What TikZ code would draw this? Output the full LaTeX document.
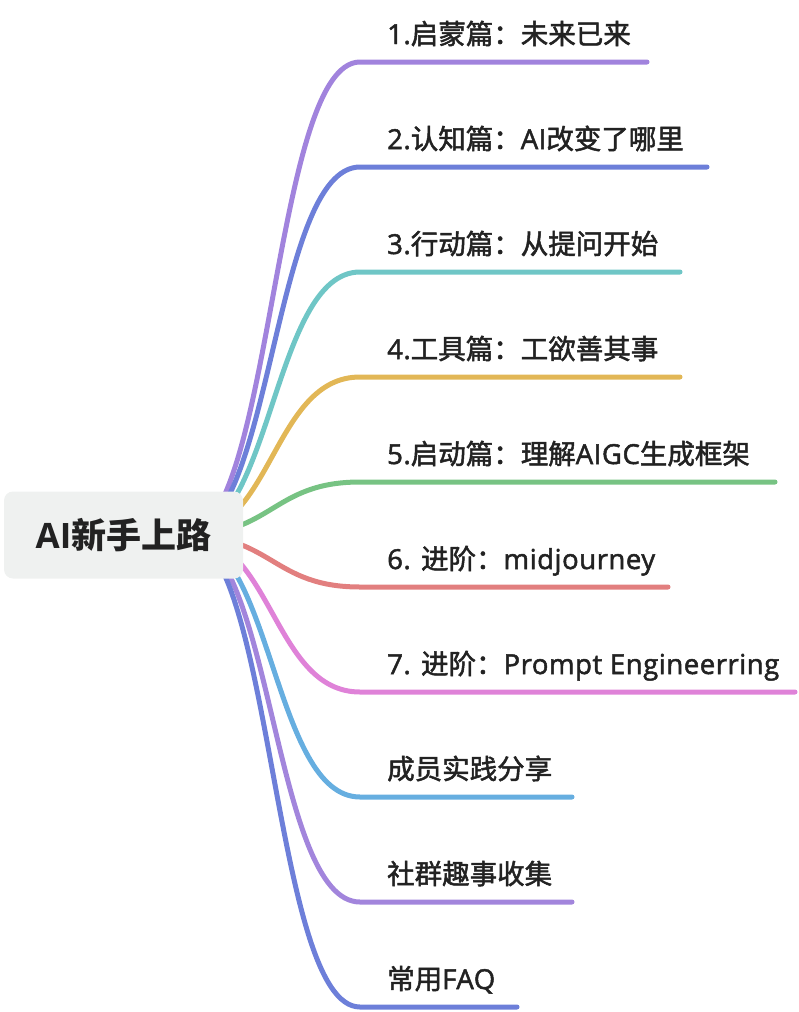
\documentclass[tikz,border=0pt]{standalone}
\usepackage{fontspec}
\setmainfont{Open Sans}
\newfontfamily\cjk{Noto Sans CJK SC}
\newfontfamily\cjkm{Noto Sans CJK SC}[FakeBold=1.8]
\newfontfamily\latm{Open Sans}[FakeBold=1.8,LetterSpace=2]
\definecolor{c1}{HTML}{A183DD}
\definecolor{c2}{HTML}{6D7FD9}
\definecolor{c3}{HTML}{6FC6C6}
\definecolor{c4}{HTML}{E2B756}
\definecolor{c5}{HTML}{77C383}
\definecolor{c6}{HTML}{E27F7F}
\definecolor{c7}{HTML}{DF82D8}
\definecolor{c8}{HTML}{66AEE0}
\definecolor{c9}{HTML}{A285DC}
\definecolor{c10}{HTML}{6D7FD9}
\definecolor{txt}{HTML}{222222}
\definecolor{rootbg}{HTML}{EFF1F0}
\begin{document}
\begin{tikzpicture}[x=1pt,y=-1pt,
  branch/.style={line width=5pt, line cap=round},
  lbl/.style={anchor=base west, inner sep=0pt, text=txt, font=\fontsize{27.5}{32}\selectfont\latm},
  rootbox/.style={fill=rootbg, rounded corners=9pt, minimum width=239pt, minimum height=87pt, inner sep=0pt, text=txt, font=\fontsize{35}{40}\selectfont\bfseries}]
\useasboundingbox (0,0) rectangle (798,1012);
\coordinate (hub) at (185,535);
% branch start / end coordinates
\coordinate (s1) at (360,62);   \coordinate (e1) at (647,62);
\coordinate (s2) at (360,167);  \coordinate (e2) at (707,167);
\coordinate (s3) at (360,272);  \coordinate (e3) at (680,272);
\coordinate (s4) at (360,377);  \coordinate (e4) at (680,377);
\coordinate (s5) at (360,482);  \coordinate (e5) at (775,482);
\coordinate (s6) at (360,587);  \coordinate (e6) at (668,587);
\coordinate (s7) at (360,692);  \coordinate (e7) at (795,692);
\coordinate (s8) at (360,797);  \coordinate (e8) at (572,797);
\coordinate (s9) at (360,902);  \coordinate (e9) at (572,902);
\coordinate (s10) at (360,1007); \coordinate (e10) at (517,1007);
% connectors
\foreach \i in {1,...,10}{
  \draw[branch, c\i] (hub) .. controls ([xshift=87.5pt]hub) and ([xshift=-87.5pt]s\i) .. (s\i) -- (e\i);
}
% root
\node[rootbox] (root) at (123.5,535) {AI{\cjk\bfseries 新手上路}};
% labels
\node[lbl] (t1) at (387,44) {1.{\cjkm 启蒙篇：未来已来}};
\node[lbl] (t2) at (387,149) {2.{\cjkm 认知篇：}AI{\cjkm 改变了哪里}};
\node[lbl] (t3) at (387,254) {3.{\cjkm 行动篇：从提问开始}};
\node[lbl] (t4) at (387,359) {4.{\cjkm 工具篇：工欲善其事}};
\node[lbl] (t5) at (387,464) {5.{\cjkm 启动篇：理解}AIGC{\cjkm 生成框架}};
\node[lbl] (t6) at (387,569) {6. {\cjkm 进阶：}midjourney};
\node[lbl] (t7) at (387,674) {7. {\cjkm 进阶：}Prompt Engineerring};
\node[lbl] (t8) at (387,779) {{\cjkm 成员实践分享}};
\node[lbl] (t9) at (387,884) {{\cjkm 社群趣事收集}};
\node[lbl] (t10) at (387,989) {{\cjkm 常用}FAQ};
\end{tikzpicture}
\end{document}
